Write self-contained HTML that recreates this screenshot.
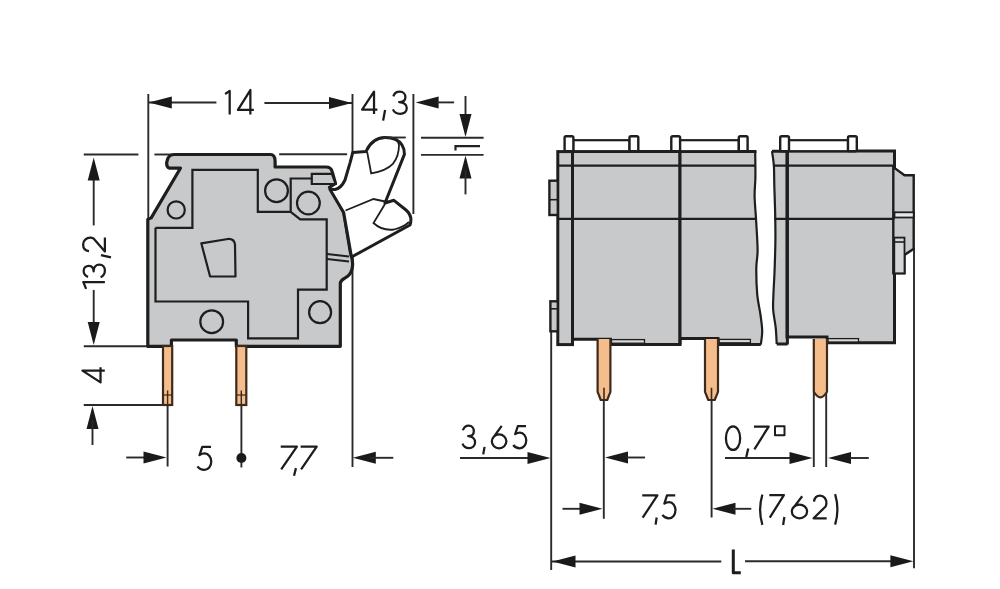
<!DOCTYPE html>
<html><head><meta charset="utf-8"><style>
html,body{margin:0;padding:0;background:#fff;}
svg{display:block;}
text{font-family:"Liberation Sans",sans-serif;fill:#222;}
</style></head><body>
<svg width="1000" height="589" viewBox="0 0 1000 589">
<rect width="1000" height="589" fill="#fff"/>
<line x1="148.3" y1="94" x2="148.3" y2="219" stroke="#2a2a2a" stroke-width="1.9"/>
<line x1="148.3" y1="102.5" x2="216.4" y2="102.5" stroke="#2a2a2a" stroke-width="1.9"/>
<polygon points="148.8,102.5 171.8,96.5 171.8,108.5" fill="#1a1a1a"/>
<line x1="264.4" y1="103" x2="352.6" y2="103" stroke="#2a2a2a" stroke-width="1.9"/>
<polygon points="352.0,103.0 329.0,97.0 329.0,109.0" fill="#1a1a1a"/>
<line x1="352.5" y1="94" x2="352.5" y2="467" stroke="#2a2a2a" stroke-width="1.9"/>
<path d="M 225.12 94.00 L 229.68 90.92 L 229.68 114.58" fill="none" stroke="#1c1c1c" stroke-width="2.25" stroke-linecap="butt" stroke-linejoin="round"/>
<path d="M 253.88 109.91 L 237.93 109.91 L 250.37 90.03 L 250.37 114.58" fill="none" stroke="#1c1c1c" stroke-width="2.25" stroke-linecap="butt" stroke-linejoin="round"/>
<path d="M 377.38 109.65 L 362.12 109.65 L 374.02 91.62 L 374.02 113.88" fill="none" stroke="#1c1c1c" stroke-width="2.25" stroke-linecap="butt" stroke-linejoin="round"/>
<path d="M 385.07 110.00 L 383.12 120.60" fill="none" stroke="#1c1c1c" stroke-width="2.25" stroke-linecap="butt" stroke-linejoin="round"/>
<path d="M 393.34 96.30 C 394.31 93.18 396.80 91.62 399.85 91.62 C 403.17 91.62 405.39 94.07 405.39 97.19 C 405.39 100.30 402.90 102.08 399.16 102.08 C 404.00 102.08 406.77 104.97 406.77 108.09 C 406.77 111.65 404.00 113.88 400.13 113.88 C 396.80 113.88 394.03 112.09 392.93 109.42" fill="none" stroke="#1c1c1c" stroke-width="2.25" stroke-linecap="butt" stroke-linejoin="round"/>
<line x1="413.4" y1="94" x2="413.4" y2="214" stroke="#2a2a2a" stroke-width="1.9"/>
<polygon points="415.6,102.4 438.6,96.4 438.6,108.4" fill="#1a1a1a"/>
<line x1="437" y1="102.4" x2="454.1" y2="102.4" stroke="#2a2a2a" stroke-width="1.9"/>
<line x1="421" y1="137.7" x2="483.6" y2="137.7" stroke="#2a2a2a" stroke-width="1.9"/>
<line x1="421" y1="154.9" x2="483.6" y2="154.9" stroke="#2a2a2a" stroke-width="1.9"/>
<line x1="465.5" y1="96" x2="465.5" y2="120" stroke="#2a2a2a" stroke-width="1.9"/>
<polygon points="465.5,137.0 459.5,114.0 471.5,114.0" fill="#1a1a1a"/>
<polygon points="465.5,155.5 459.5,178.5 471.5,178.5" fill="#1a1a1a"/>
<line x1="465.5" y1="170" x2="465.5" y2="194.4" stroke="#2a2a2a" stroke-width="1.9"/>
<path d="M455.5,150.5 L455.5,146.2 L480,146.2" fill="none" stroke="#222" stroke-width="2.2"/>
<line x1="83.75" y1="154.5" x2="138.4" y2="154.5" stroke="#2a2a2a" stroke-width="1.9"/>
<line x1="154.4" y1="154.5" x2="174" y2="154.5" stroke="#2a2a2a" stroke-width="1.9"/>
<line x1="279.2" y1="154.2" x2="347.1" y2="154.2" stroke="#2a2a2a" stroke-width="1.9"/>
<line x1="93.7" y1="170" x2="93.7" y2="225.4" stroke="#2a2a2a" stroke-width="1.9"/>
<polygon points="93.7,157.5 87.7,180.5 99.7,180.5" fill="#1a1a1a"/>
<line x1="93.7" y1="289.9" x2="93.7" y2="330" stroke="#2a2a2a" stroke-width="1.9"/>
<polygon points="93.7,345.0 87.7,322.0 99.7,322.0" fill="#1a1a1a"/>
<path d="M -288.88 86.13 L -282.12 83.33 L -282.12 104.88" fill="none" stroke="#1c1c1c" stroke-width="2.25" stroke-linecap="butt" stroke-linejoin="round" transform="rotate(-90)"/>
<path d="M -276.80 88.09 C -275.91 85.11 -273.63 83.62 -270.85 83.62 C -267.81 83.62 -265.79 85.96 -265.79 88.94 C -265.79 91.91 -268.07 93.61 -271.48 93.61 C -267.06 93.61 -264.52 96.38 -264.52 99.35 C -264.52 102.75 -267.06 104.88 -270.60 104.88 C -273.63 104.88 -276.16 103.17 -277.18 100.62" fill="none" stroke="#1c1c1c" stroke-width="2.25" stroke-linecap="butt" stroke-linejoin="round" transform="rotate(-90)"/>
<path d="M -255.12 101.00 L -257.38 111.00" fill="none" stroke="#1c1c1c" stroke-width="2.25" stroke-linecap="butt" stroke-linejoin="round" transform="rotate(-90)"/>
<path d="M -251.05 89.00 C -250.63 85.30 -247.96 83.12 -244.45 83.12 C -240.52 83.12 -237.71 86.39 -237.71 90.30 C -237.71 91.83 -237.99 92.69 -238.55 93.56 L -251.47 104.88 L -237.43 104.88" fill="none" stroke="#1c1c1c" stroke-width="2.25" stroke-linecap="butt" stroke-linejoin="round" transform="rotate(-90)"/>
<line x1="83.75" y1="346.25" x2="148" y2="346.25" stroke="#2a2a2a" stroke-width="1.9"/>
<path d="M -367.32 100.53 L -382.38 100.53 L -370.64 82.42 L -370.64 104.78" fill="none" stroke="#1c1c1c" stroke-width="2.25" stroke-linecap="butt" stroke-linejoin="round" transform="rotate(-90)"/>
<line x1="83.75" y1="405" x2="172" y2="405" stroke="#2a2a2a" stroke-width="1.9"/>
<polygon points="92.5,406.0 86.5,429.0 98.5,429.0" fill="#1a1a1a"/>
<line x1="92.5" y1="420" x2="92.5" y2="445" stroke="#2a2a2a" stroke-width="1.9"/>
<line x1="167.6" y1="405" x2="167.6" y2="466.5" stroke="#2a2a2a" stroke-width="1.9"/>
<line x1="241.4" y1="405" x2="241.4" y2="467.5" stroke="#2a2a2a" stroke-width="1.9"/>
<circle cx="241.4" cy="458" r="5" fill="#1a1a1a"/>
<line x1="126.25" y1="457.5" x2="150" y2="457.5" stroke="#2a2a2a" stroke-width="1.9"/>
<polygon points="166.5,457.5 143.5,451.5 143.5,463.5" fill="#1a1a1a"/>
<path d="M 211.00 446.82 L 202.27 446.82 L 199.50 455.09 C 201.30 453.94 202.97 453.48 204.63 453.48 C 208.50 453.48 211.28 457.61 211.28 461.51 C 211.28 466.33 208.23 469.77 204.35 469.77 C 201.58 469.77 198.81 468.17 197.43 466.33" fill="none" stroke="#1c1c1c" stroke-width="2.25" stroke-linecap="butt" stroke-linejoin="round"/>
<path d="M 280.73 446.62 L 296.88 446.62 L 281.21 469.38" fill="none" stroke="#1c1c1c" stroke-width="2.25" stroke-linecap="butt" stroke-linejoin="round"/>
<path d="M 295.98 468.10 L 294.02 475.80" fill="none" stroke="#1c1c1c" stroke-width="2.25" stroke-linecap="butt" stroke-linejoin="round"/>
<path d="M 300.62 446.62 L 316.68 446.62 L 301.11 469.38" fill="none" stroke="#1c1c1c" stroke-width="2.25" stroke-linecap="butt" stroke-linejoin="round"/>
<polygon points="352.8,457.8 375.8,451.8 375.8,463.8" fill="#1a1a1a"/>
<line x1="370" y1="457.8" x2="393.3" y2="457.8" stroke="#2a2a2a" stroke-width="1.9"/>
<line x1="551.2" y1="331" x2="551.2" y2="570" stroke="#2a2a2a" stroke-width="1.9"/>
<line x1="460" y1="458" x2="528" y2="458" stroke="#2a2a2a" stroke-width="1.9"/>
<polygon points="550.5,458.0 527.5,452.0 527.5,464.0" fill="#1a1a1a"/>
<path d="M 462.90 430.26 C 463.78 427.10 466.04 425.52 468.80 425.52 C 471.81 425.52 473.82 428.01 473.82 431.16 C 473.82 434.32 471.56 436.12 468.17 436.12 C 472.56 436.12 475.07 439.06 475.07 442.21 C 475.07 445.82 472.56 448.07 469.05 448.07 C 466.04 448.07 463.53 446.27 462.52 443.56" fill="none" stroke="#1c1c1c" stroke-width="2.25" stroke-linecap="butt" stroke-linejoin="round"/>
<path d="M 484.57 446.90 L 483.23 454.40" fill="none" stroke="#1c1c1c" stroke-width="2.25" stroke-linecap="butt" stroke-linejoin="round"/>
<path d="M 501.72 425.93 L 492.70 438.44 M 491.82 441.35 C 491.82 437.55 495.03 434.37 499.10 434.37 C 503.17 434.37 506.38 437.55 506.38 441.35 C 506.38 445.15 503.17 448.27 499.10 448.27 C 495.03 448.27 491.82 445.15 491.82 441.35 Z" fill="none" stroke="#1c1c1c" stroke-width="2.25" stroke-linecap="butt" stroke-linejoin="round"/>
<path d="M 526.01 426.23 L 517.79 426.23 L 515.18 434.16 C 516.88 433.06 518.45 432.62 520.01 432.62 C 523.66 432.62 526.27 436.59 526.27 440.34 C 526.27 444.97 523.40 448.27 519.75 448.27 C 517.14 448.27 514.53 446.73 513.23 444.97" fill="none" stroke="#1c1c1c" stroke-width="2.25" stroke-linecap="butt" stroke-linejoin="round"/>
<line x1="603.8" y1="400" x2="603.8" y2="518.8" stroke="#2a2a2a" stroke-width="1.9"/>
<polygon points="605.0,457.5 628.0,451.5 628.0,463.5" fill="#1a1a1a"/>
<line x1="627" y1="457.5" x2="645" y2="457.5" stroke="#2a2a2a" stroke-width="1.9"/>
<line x1="562.5" y1="508.8" x2="582" y2="508.8" stroke="#2a2a2a" stroke-width="1.9"/>
<polygon points="602.5,508.8 579.5,502.8 579.5,514.8" fill="#1a1a1a"/>
<path d="M 642.23 495.43 L 657.38 495.43 L 642.68 517.67" fill="none" stroke="#1c1c1c" stroke-width="2.25" stroke-linecap="butt" stroke-linejoin="round"/>
<path d="M 656.67 517.50 L 655.62 524.70" fill="none" stroke="#1c1c1c" stroke-width="2.25" stroke-linecap="butt" stroke-linejoin="round"/>
<path d="M 675.21 495.43 L 666.99 495.43 L 664.38 503.65 C 666.08 502.51 667.64 502.05 669.21 502.05 C 672.87 502.05 675.48 506.16 675.48 510.05 C 675.48 514.85 672.60 518.27 668.95 518.27 C 666.34 518.27 663.73 516.68 662.42 514.85" fill="none" stroke="#1c1c1c" stroke-width="2.25" stroke-linecap="butt" stroke-linejoin="round"/>
<line x1="711.6" y1="400" x2="711.6" y2="517.5" stroke="#2a2a2a" stroke-width="1.9"/>
<polygon points="712.5,508.8 735.5,502.8 735.5,514.8" fill="#1a1a1a"/>
<line x1="733" y1="508.8" x2="751.3" y2="508.8" stroke="#2a2a2a" stroke-width="1.9"/>
<path d="M 762.38 494.62 C 759.62 503.70 759.62 515.80 762.38 524.88" fill="none" stroke="#1c1c1c" stroke-width="2.25" stroke-linecap="butt" stroke-linejoin="round"/>
<path d="M 769.33 495.12 L 783.88 495.12 L 769.76 517.67" fill="none" stroke="#1c1c1c" stroke-width="2.25" stroke-linecap="butt" stroke-linejoin="round"/>
<path d="M 784.38 517.00 L 783.12 525.00" fill="none" stroke="#1c1c1c" stroke-width="2.25" stroke-linecap="butt" stroke-linejoin="round"/>
<path d="M 802.20 496.23 L 792.74 508.57 M 791.83 511.44 C 791.83 507.69 795.18 504.56 799.45 504.56 C 803.72 504.56 807.08 507.69 807.08 511.44 C 807.08 515.19 803.72 518.27 799.45 518.27 C 795.18 518.27 791.83 515.19 791.83 511.44 Z" fill="none" stroke="#1c1c1c" stroke-width="2.25" stroke-linecap="butt" stroke-linejoin="round"/>
<path d="M 814.02 501.67 C 814.41 497.80 816.89 495.52 820.15 495.52 C 823.80 495.52 826.41 498.94 826.41 503.03 C 826.41 504.62 826.15 505.53 825.63 506.44 L 813.62 518.27 L 826.67 518.27" fill="none" stroke="#1c1c1c" stroke-width="2.25" stroke-linecap="butt" stroke-linejoin="round"/>
<path d="M 835.12 494.12 C 837.88 503.29 837.88 515.51 835.12 524.67" fill="none" stroke="#1c1c1c" stroke-width="2.25" stroke-linecap="butt" stroke-linejoin="round"/>
<line x1="813.8" y1="392" x2="813.8" y2="467" stroke="#2a2a2a" stroke-width="1.9"/>
<line x1="826.2" y1="392" x2="826.2" y2="467" stroke="#2a2a2a" stroke-width="1.9"/>
<line x1="725" y1="458" x2="792" y2="458" stroke="#2a2a2a" stroke-width="1.9"/>
<polygon points="812.5,458.0 789.5,452.0 789.5,464.0" fill="#1a1a1a"/>
<polygon points="828.0,458.0 851.0,452.0 851.0,464.0" fill="#1a1a1a"/>
<line x1="850" y1="458" x2="868.8" y2="458" stroke="#2a2a2a" stroke-width="1.9"/>
<path d="M 725.92 438.15 C 725.92 431.53 729.06 426.32 733.05 426.32 C 737.04 426.32 740.17 431.53 740.17 438.15 C 740.17 444.77 737.04 449.98 733.05 449.98 C 729.06 449.98 725.92 444.77 725.92 438.15 Z" fill="none" stroke="#1c1c1c" stroke-width="2.25" stroke-linecap="butt" stroke-linejoin="round"/>
<path d="M 748.27 448.50 L 746.23 457.00" fill="none" stroke="#1c1c1c" stroke-width="2.25" stroke-linecap="butt" stroke-linejoin="round"/>
<path d="M 753.92 426.62 L 768.67 426.62 L 754.37 449.38" fill="none" stroke="#1c1c1c" stroke-width="2.25" stroke-linecap="butt" stroke-linejoin="round"/>
<path d="M 775.00 426.20 L 784.50 426.20 L 784.50 435.20 L 775.00 435.20 Z" fill="none" stroke="#1c1c1c" stroke-width="2" stroke-linecap="butt" stroke-linejoin="round"/>
<line x1="914.0" y1="248" x2="914.0" y2="568.2" stroke="#2a2a2a" stroke-width="1.9"/>
<line x1="551.2" y1="561.5" x2="721.3" y2="561.5" stroke="#2a2a2a" stroke-width="1.9"/>
<polygon points="552.5,561.5 575.5,555.5 575.5,567.5" fill="#1a1a1a"/>
<line x1="745" y1="561.2" x2="892" y2="561.2" stroke="#2a2a2a" stroke-width="1.9"/>
<polygon points="913.4,561.2 890.4,555.2 890.4,567.2" fill="#1a1a1a"/>
<path d="M 733.30 549.50 L 733.30 572.70 L 740.80 572.70" fill="none" stroke="#1c1c1c" stroke-width="3" stroke-linecap="butt" stroke-linejoin="round"/>
<path d="M174.3,154.5 L270.4,154.5 Q275.1,154.5 275.1,161.5 L275.1,167 L326,167 Q331,167 332.2,171.7 L335.5,183.5 L329.5,187.3 L343.7,212.5 L350.5,253 C353.5,261 353.5,270 349,275 C346,278.5 341,278.5 340.3,283 L340.3,346.3 L236.3,346.3 L236.3,340 L171.4,340 L171.4,346.3 L147.8,346.3 L147.8,219.4 L151.2,217.9 L180.4,168.2 L169.7,168.2 Q166.6,167.5 166.6,163 L167.4,159.8 Q169,154.5 174.3,154.5 Z" fill="#c8c9cb" stroke="#1e1e1e" stroke-width="3.2" stroke-linejoin="round"/>
<path d="M155.5,227.8 L192.4,227.8 L192.4,169.9 L257.8,169.9 L257.8,211.8 L290.7,211.8 L290.7,178.5 L311.8,178.5 M290.7,211.8 L300.2,219.3 L326.7,219.3 L326.7,289.6 L298,289.6 L298,338.3 L248.1,338.3 L248.1,301.5 L155.5,301.5 L155.5,227.8" fill="none" stroke="#1e1e1e" stroke-width="2.2" stroke-linejoin="miter"/>
<path d="M311.8,173.8 L332,173.8 L335.5,184 L311.8,184 Z" fill="#c8c9cb" stroke="#1e1e1e" stroke-width="2.2"/>
<circle cx="176.2" cy="209.9" r="8.6" fill="none" stroke="#1e1e1e" stroke-width="2.2"/>
<circle cx="276.5" cy="190.7" r="11.4" fill="none" stroke="#1e1e1e" stroke-width="2.2"/>
<circle cx="308.4" cy="203" r="11.4" fill="none" stroke="#1e1e1e" stroke-width="2.2"/>
<circle cx="211.7" cy="321.7" r="11.4" fill="none" stroke="#1e1e1e" stroke-width="2.2"/>
<circle cx="320.1" cy="312.2" r="11" fill="none" stroke="#1e1e1e" stroke-width="2.2"/>
<path d="M201.3,243.3 L227.9,239 Q234,238.5 235,244.4 L235.5,276.5 L210.1,276.5 Z" fill="none" stroke="#1e1e1e" stroke-width="2.2" stroke-linejoin="round"/>
<line x1="327" y1="254" x2="349" y2="256.5" stroke="#1e1e1e" stroke-width="2"/>
<line x1="327" y1="259" x2="349" y2="261.5" stroke="#1e1e1e" stroke-width="2"/>
<path d="M330,189.5 L335,189.5 Q341,188.5 345,180 L350.1,162.6 L352.8,152.4 L366,151.5 Q372,138 385,137.6 Q397,137.5 402,145 Q404.5,149 404.4,154.4 L385,203 L393.9,200.3 L406,210 Q413,216 410,225 L351.5,257 L343.7,212.5 Z" fill="#ffffff" stroke="#1e1e1e" stroke-width="3" stroke-linejoin="round"/>
<path d="M367.1,151.7 L371.2,173.4 Q386,171 392.9,163.9 Q399,156 399,144.9 L397,138.8" fill="none" stroke="#1e1e1e" stroke-width="1.8"/>
<path d="M385,204 L373.5,223 Q382,231 394,229.5 Q404,227 409,222" fill="none" stroke="#1e1e1e" stroke-width="1.8"/>
<path d="M345.5,210.5 L373.5,199 L385,201.5" fill="none" stroke="#1e1e1e" stroke-width="1.8"/>
<rect x="163" y="346" width="9.199999999999989" height="59" fill="#f4bd8b" stroke="#3d2a1c" stroke-width="2.2"/>
<line x1="167.6" y1="390.4" x2="167.6" y2="405" stroke="#3d2a1c" stroke-width="1.4"/>
<line x1="163" y1="395" x2="172.2" y2="395" stroke="#3d2a1c" stroke-width="1.2"/>
<rect x="236.3" y="346" width="10.0" height="59" fill="#f4bd8b" stroke="#3d2a1c" stroke-width="2.2"/>
<line x1="241.3" y1="390.4" x2="241.3" y2="405" stroke="#3d2a1c" stroke-width="1.4"/>
<line x1="236.3" y1="395" x2="246.3" y2="395" stroke="#3d2a1c" stroke-width="1.2"/>
<rect x="557.8" y="151.6" width="14.7" height="193" fill="#c8c9cb" stroke="#1e1e1e" stroke-width="3"/>
<path d="M572.5,151.6 L680,151.6 L680,344.6 L610.4,344.6 L610.4,339.2 L572.5,339.2 Z" fill="#c8c9cb" stroke="#1e1e1e" stroke-width="3"/>
<rect x="611.5" y="339.6" width="33" height="3.6" fill="#d9d9db" stroke="#1e1e1e" stroke-width="1.3"/>
<path d="M680,151.6 L755.2,151.6 C755.23,155.88 755.50,169.90 755.40,177.30 C755.30,184.70 754.48,188.83 754.60,196.00 C754.72,203.17 755.60,211.30 756.10,220.30 C756.60,229.30 757.57,242.05 757.60,250.00 C757.63,257.95 756.37,260.65 756.30,268.00 C756.23,275.35 756.50,286.27 757.20,294.10 C757.90,301.93 759.67,308.85 760.50,315.00 C761.33,321.15 762.15,326.07 762.20,331.00 C762.25,335.93 761.03,342.33 760.80,344.60  L718,344.6 L718,338.6 L680,338.6 Z" fill="#c8c9cb" stroke="none"/>
<path d="M680,338.6 L718,338.6 L718,344.6 L760.8,344.6" fill="none" stroke="#1e1e1e" stroke-width="3"/>
<path d="M680,151.6 L756.5,151.6" fill="none" stroke="#1e1e1e" stroke-width="3"/>
<path d="M755.20,151.60 C755.23,155.88 755.50,169.90 755.40,177.30 C755.30,184.70 754.48,188.83 754.60,196.00 C754.72,203.17 755.60,211.30 756.10,220.30 C756.60,229.30 757.57,242.05 757.60,250.00 C757.63,257.95 756.37,260.65 756.30,268.00 C756.23,275.35 756.50,286.27 757.20,294.10 C757.90,301.93 759.67,308.85 760.50,315.00 C761.33,321.15 762.15,326.07 762.20,331.00 C762.25,335.93 761.03,342.33 760.80,344.60 " fill="none" stroke="#1e1e1e" stroke-width="2.2"/>
<rect x="719.2" y="339.4" width="31.2" height="3.4" fill="#d9d9db" stroke="#1e1e1e" stroke-width="1.3"/>
<path d="M787.6,151.2 L787.6,344 L776.7,344 C776.53,341.28 776.28,333.37 775.70,327.70 C775.12,322.03 773.58,315.45 773.20,310.00 C772.82,304.55 773.17,301.67 773.40,295.00 C773.63,288.33 774.27,279.17 774.60,270.00 C774.93,260.83 775.30,249.17 775.40,240.00 C775.50,230.83 775.38,224.17 775.20,215.00 C775.02,205.83 774.52,193.15 774.30,185.00 C774.08,176.85 774.28,171.73 773.90,166.10 C773.52,160.47 772.32,153.68 772.00,151.20  Z" fill="#c8c9cb" stroke="none"/>
<path d="M772,151.2 L787.6,151.2 M776.7,344 L787.6,344" fill="none" stroke="#1e1e1e" stroke-width="3"/>
<path d="M776.70,344.00 C776.53,341.28 776.28,333.37 775.70,327.70 C775.12,322.03 773.58,315.45 773.20,310.00 C772.82,304.55 773.17,301.67 773.40,295.00 C773.63,288.33 774.27,279.17 774.60,270.00 C774.93,260.83 775.30,249.17 775.40,240.00 C775.50,230.83 775.38,224.17 775.20,215.00 C775.02,205.83 774.52,193.15 774.30,185.00 C774.08,176.85 774.28,171.73 773.90,166.10 C773.52,160.47 772.32,153.68 772.00,151.20 " fill="none" stroke="#1e1e1e" stroke-width="2.2"/>
<path d="M787,151 L894.5,151 L894.5,342.8 L827,342.8 L827,337.1 L787,337.1 Z" fill="#c8c9cb" stroke="#1e1e1e" stroke-width="3"/>
<rect x="828" y="338.6" width="30.5" height="3.4" fill="#d9d9db" stroke="#1e1e1e" stroke-width="1.3"/>
<line x1="787.4" y1="151" x2="787.4" y2="344.5" stroke="#1e1e1e" stroke-width="3"/>
<path d="M893.3,167.1 L904.5,175.3 L913.7,175.3 L913.7,248.8 L904.5,254.9 L904.5,273.3 L893.3,273.3 Z" fill="#c8c9cb" stroke="#1e1e1e" stroke-width="2.4" stroke-linejoin="miter"/>
<rect x="894.5" y="212.3" width="19.2" height="5.2" fill="#e8e8ea" stroke="#1e1e1e" stroke-width="1.8"/>
<rect x="894.3" y="237.6" width="10.2" height="35.7" fill="#d4d5d7" stroke="#1e1e1e" stroke-width="1.8"/>
<line x1="894.3" y1="242" x2="904.5" y2="242" stroke="#1e1e1e" stroke-width="1.6"/>
<line x1="557.8" y1="165.7" x2="756" y2="165.7" stroke="#1e1e1e" stroke-width="2.2"/>
<line x1="774" y1="165.7" x2="894.5" y2="165.7" stroke="#1e1e1e" stroke-width="2.2"/>
<line x1="557.8" y1="218.8" x2="756" y2="218.8" stroke="#1e1e1e" stroke-width="2.2"/>
<line x1="774" y1="218.8" x2="894.5" y2="218.8" stroke="#1e1e1e" stroke-width="2.2"/>
<line x1="572.5" y1="151" x2="572.5" y2="344" stroke="#1e1e1e" stroke-width="3"/>
<line x1="680" y1="150.2" x2="680" y2="344.6" stroke="#1e1e1e" stroke-width="3"/>
<rect x="573.1" y="140.2" width="56.39999999999998" height="11" fill="#ffffff" stroke="#1e1e1e" stroke-width="2.2"/>
<rect x="564.6" y="136.3" width="8.8" height="15" rx="1.5" fill="#ffffff" stroke="#1e1e1e" stroke-width="2.4"/>
<rect x="629.5" y="136.3" width="8.8" height="15" rx="1.5" fill="#ffffff" stroke="#1e1e1e" stroke-width="2.4"/>
<rect x="679.8" y="140.2" width="59.0" height="11" fill="#ffffff" stroke="#1e1e1e" stroke-width="2.2"/>
<rect x="671.3" y="136.3" width="8.8" height="15" rx="1.5" fill="#ffffff" stroke="#1e1e1e" stroke-width="2.4"/>
<rect x="738.8" y="136.3" width="8.8" height="15" rx="1.5" fill="#ffffff" stroke="#1e1e1e" stroke-width="2.4"/>
<rect x="788.7" y="140.2" width="59.299999999999955" height="11" fill="#ffffff" stroke="#1e1e1e" stroke-width="2.2"/>
<rect x="780.2" y="136.3" width="8.8" height="15" rx="1.5" fill="#ffffff" stroke="#1e1e1e" stroke-width="2.4"/>
<rect x="848" y="136.3" width="8.8" height="15" rx="1.5" fill="#ffffff" stroke="#1e1e1e" stroke-width="2.4"/>
<rect x="549.4" y="180.7" width="8.4" height="34.3" fill="#c8c9cb" stroke="#1e1e1e" stroke-width="2.4"/>
<line x1="549.4" y1="199.7" x2="557.8" y2="199.7" stroke="#1e1e1e" stroke-width="1.6"/>
<rect x="550.4" y="301.3" width="7.4" height="30" fill="#c8c9cb" stroke="#1e1e1e" stroke-width="2.4"/>
<line x1="550.4" y1="308.8" x2="557.8" y2="308.8" stroke="#1e1e1e" stroke-width="1.6"/>
<path d="M597.6,339 L597.6,391.8 L600.8,400 L607.2,400 L610.4,391.8 L610.4,339" fill="#f4bd8b" stroke="#3d2a1c" stroke-width="2.2" stroke-linejoin="round"/>
<line x1="604.0" y1="387.7" x2="604.0" y2="400" stroke="#3d2a1c" stroke-width="1.6"/>
<path d="M705,339 L705,391.8 L708.3,400 L714.7,400 L718,391.8 L718,339" fill="#f4bd8b" stroke="#3d2a1c" stroke-width="2.2" stroke-linejoin="round"/>
<line x1="711.5" y1="387.7" x2="711.5" y2="400" stroke="#3d2a1c" stroke-width="1.6"/>
<path d="M813.8,339 L813.8,391.8 Q820.4,403 827,391.8 L827,339" fill="#f4bd8b" stroke="#3d2a1c" stroke-width="2.2" stroke-linejoin="round"/>
<line x1="382.7" y1="137.5" x2="405.8" y2="137.5" stroke="#2a2a2a" stroke-width="1.9"/>
</svg>
</body></html>
